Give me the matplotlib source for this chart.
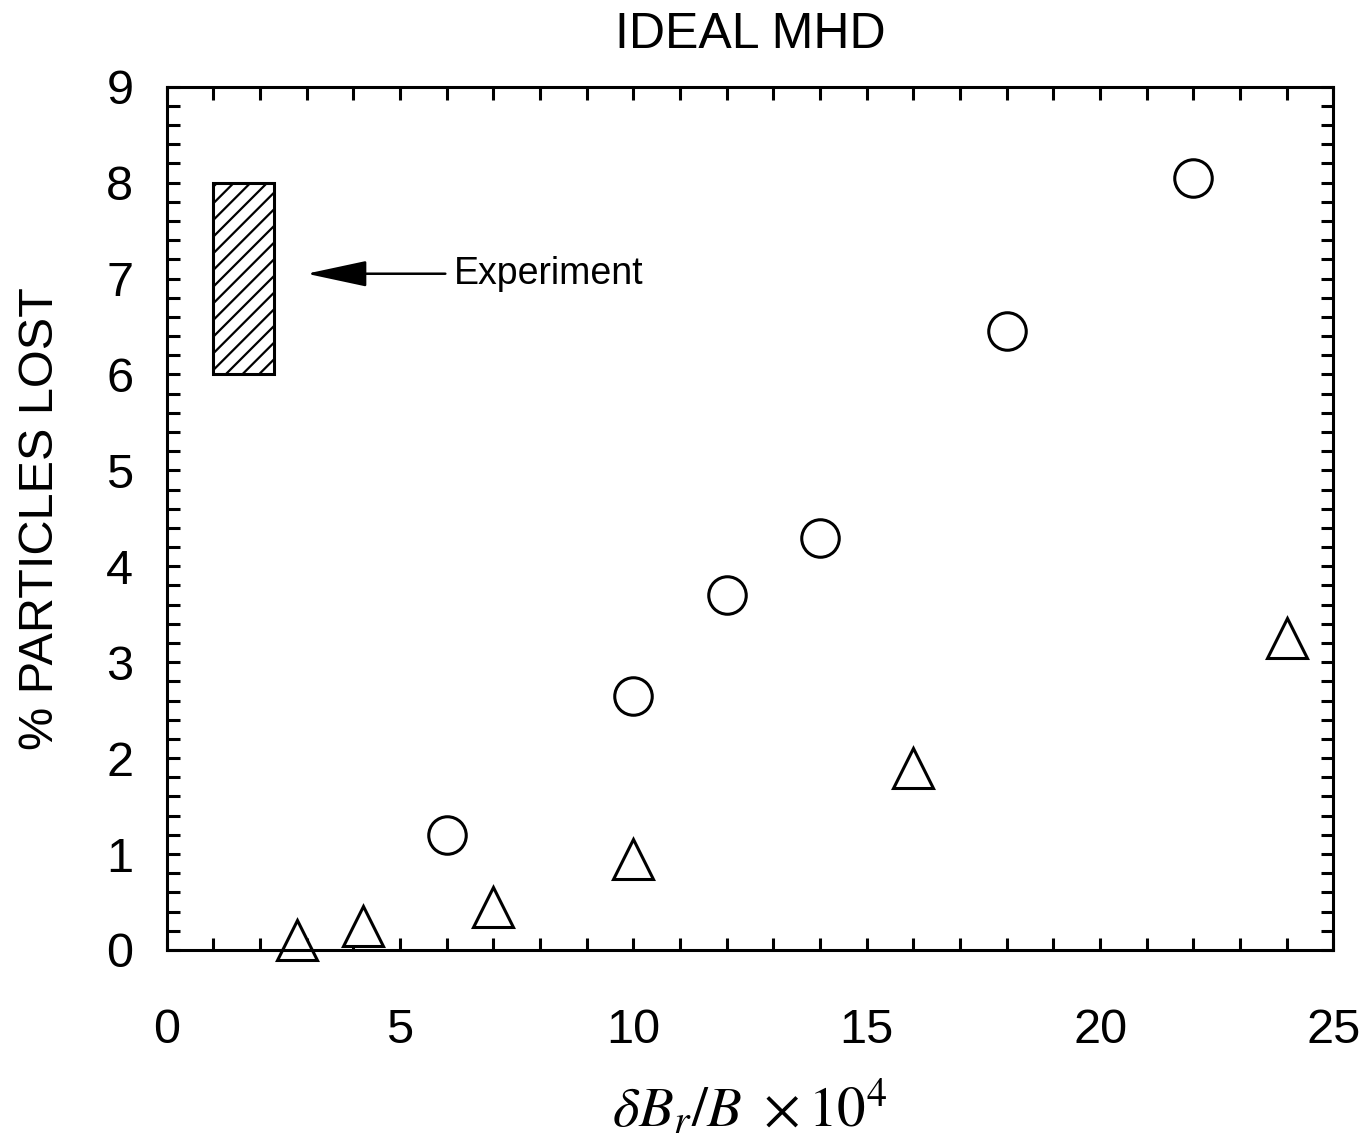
import numpy as np
import matplotlib
matplotlib.use("Agg")
import matplotlib.pyplot as plt
from matplotlib.patches import Rectangle
from matplotlib.ticker import MultipleLocator

plt.rcParams['font.family'] = ['Liberation Sans', 'DejaVu Sans']
plt.rcParams['mathtext.fontset'] = 'stix'
plt.rcParams['hatch.linewidth'] = 1.6

# circles (upper series)
circ_x = [6, 10, 12, 14, 18, 22]
circ_y = [1.2, 2.65, 3.7, 4.3, 6.45, 8.05]

# triangles (lower series)
tri_x = [2.8, 4.2, 7.0, 10.0, 16.0, 24.0]
tri_y = [0.1, 0.25, 0.45, 0.95, 1.9, 3.25]

# experiment range
exp_x = [1.0, 2.3]
exp_y = [6.0, 8.0]

fig = plt.figure(figsize=(13.6, 11.48), dpi=100)
ax = fig.add_axes([0.1225, 0.1725, 0.858, 0.752])

ax.plot(circ_x, circ_y, 'o', ms=27, mfc='white', mec='black', mew=2.2, ls='none')
ax.plot(tri_x, tri_y, '^', ms=29, mfc='white', mec='black', mew=2.2, ls='none', clip_on=False)

ax.add_patch(Rectangle((exp_x[0], exp_y[0]), exp_x[1] - exp_x[0], exp_y[1] - exp_y[0],
                       fill=False, hatch='//', lw=2.2, ec='black'))
ax.annotate("Experiment", xy=(3.0, 7.05), xytext=(6.15, 7.05), fontsize=27,
            va='center', ha='left',
            arrowprops=dict(arrowstyle='-|>,head_length=1.4,head_width=0.3', lw=1.8, color='black',
                            shrinkA=4, shrinkB=0))

ax.set_xlim(0, 25)
ax.set_ylim(0, 9)
ax.xaxis.set_major_locator(MultipleLocator(5))
ax.xaxis.set_minor_locator(MultipleLocator(1))
ax.yaxis.set_major_locator(MultipleLocator(1))
ax.yaxis.set_minor_locator(MultipleLocator(0.2))
ax.tick_params(which='both', direction='in', top=True, right=True, width=2.2, length=9)
ax.tick_params(axis='x', labelsize=35, pad=42)
ax.tick_params(axis='y', labelsize=35, pad=24)
for s in ax.spines.values():
    s.set_linewidth(2.2)

ax.set_title("IDEAL MHD", fontsize=36, pad=28)
ax.set_ylabel("% PARTICLES LOST", fontsize=35, labelpad=31)
ax.set_xlabel(r"$\delta B_r/B\ \times 10^4$", fontsize=41, labelpad=18)

fig.savefig("out.png", dpi=100)
